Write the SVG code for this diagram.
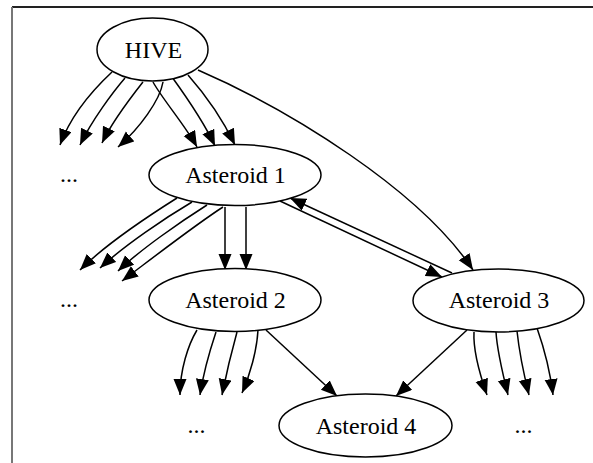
<svg xmlns="http://www.w3.org/2000/svg" width="593" height="463" viewBox="0 0 593 463">
  <style>
    .node ellipse { fill: #ffffff; stroke: #000000; stroke-width: 1.5; }
    .node text, .label { font-family: "Liberation Serif", "Times New Roman", serif; font-size: 24px; fill: #000000; text-anchor: middle; }
    .edge { fill: none; stroke: #000000; stroke-width: 1.5; marker-end: url(#arrow); }
  </style>
  <defs>
    <marker id="arrow" markerUnits="userSpaceOnUse" markerWidth="18" markerHeight="14" refX="16" refY="6.5" orient="auto">
      <path d="M0,0 L16,6.5 L0,13 z" fill="#000000"/>
    </marker>
  </defs>

  <rect width="593" height="463" fill="#ffffff"/>
  <!-- frame edges -->
  <line x1="12" y1="7" x2="593" y2="7" stroke="#222222" stroke-width="2"/>
  <line x1="12" y1="7" x2="12" y2="463" stroke="#777777" stroke-width="2"/>

  <g id="connectors">
    <!-- HIVE to unnamed targets -->
    <path class="edge" d="M112,72 C97,86 72,112 60,145"/>
    <path class="edge" d="M125,78 C113,92 92,120 80,145"/>
    <path class="edge" d="M143,82 C132,96 113,120 102,143"/>
    <path class="edge" d="M163,82 C160,100 140,128 118,147"/>
    <!-- HIVE to Asteroid 1 -->
    <path class="edge" d="M153,82 C163,100 185,125 197,147"/>
    <path class="edge" d="M172,77 C185,95 203,120 215,146"/>
    <path class="edge" d="M188,75 C203,92 222,118 235,145"/>
    <!-- HIVE to Asteroid 3 -->
    <path class="edge" d="M198,70 C290,110 420,190 473,270"/>
    <!-- Asteroid 1 to unnamed targets -->
    <path class="edge" d="M177,198 C150,215 105,245 80,270"/>
    <path class="edge" d="M192,202 C165,218 125,245 100,268"/>
    <path class="edge" d="M207,205 C180,222 140,250 118,271"/>
    <path class="edge" d="M223,207 C195,225 150,260 122,281"/>
    <!-- Asteroid 1 to Asteroid 2 -->
    <path class="edge" d="M225,207 L225,270"/>
    <path class="edge" d="M246,207 L246,270"/>
    <!-- Asteroid 1 and Asteroid 3 -->
    <path class="edge" d="M452,273 L290,198"/>
    <path class="edge" d="M280,201 L442,277"/>
    <!-- Asteroid 2 to unnamed targets -->
    <path class="edge" d="M197,330 C188,345 180,370 180,395"/>
    <path class="edge" d="M216,332 C210,350 203,375 200,395"/>
    <path class="edge" d="M237,332 C232,350 226,375 222,395"/>
    <path class="edge" d="M258,330 C257,350 250,375 242,393"/>
    <!-- into Asteroid 4 -->
    <path class="edge" d="M266,330 L337,396"/>
    <path class="edge" d="M467,330 L396,396"/>
    <!-- Asteroid 3 to unnamed targets -->
    <path class="edge" d="M474,332 C473,350 480,375 487,395"/>
    <path class="edge" d="M496,332 C497,350 503,375 508,395"/>
    <path class="edge" d="M517,331 C519,350 524,375 529,395"/>
    <path class="edge" d="M537,328 C543,345 550,370 553,395"/>
  </g>

  <g id="hive" class="node">
    <ellipse cx="152.5" cy="49.5" rx="55.5" ry="31.5"/>
    <text x="153.5" y="57.5">HIVE</text>
  </g>
  <g id="asteroid1" class="node">
    <ellipse cx="235" cy="175" rx="86" ry="30.5"/>
    <text x="235.5" y="182.5">Asteroid 1</text>
  </g>
  <g id="asteroid2" class="node">
    <ellipse cx="235" cy="300" rx="86" ry="31.5"/>
    <text x="235.5" y="307.5">Asteroid 2</text>
  </g>
  <g id="asteroid3" class="node">
    <ellipse cx="498.5" cy="300.5" rx="85.5" ry="31.5"/>
    <text x="499" y="308">Asteroid 3</text>
  </g>
  <g id="asteroid4" class="node">
    <ellipse cx="365.5" cy="425.5" rx="86.5" ry="31.5"/>
    <text x="366" y="433.5">Asteroid 4</text>
  </g>
  <g id="more1"><text class="label" x="69" y="182">...</text></g>
  <g id="more2"><text class="label" x="69" y="307">...</text></g>
  <g id="more3"><text class="label" x="196.5" y="433">...</text></g>
  <g id="more4"><text class="label" x="523.5" y="433">...</text></g>
</svg>
